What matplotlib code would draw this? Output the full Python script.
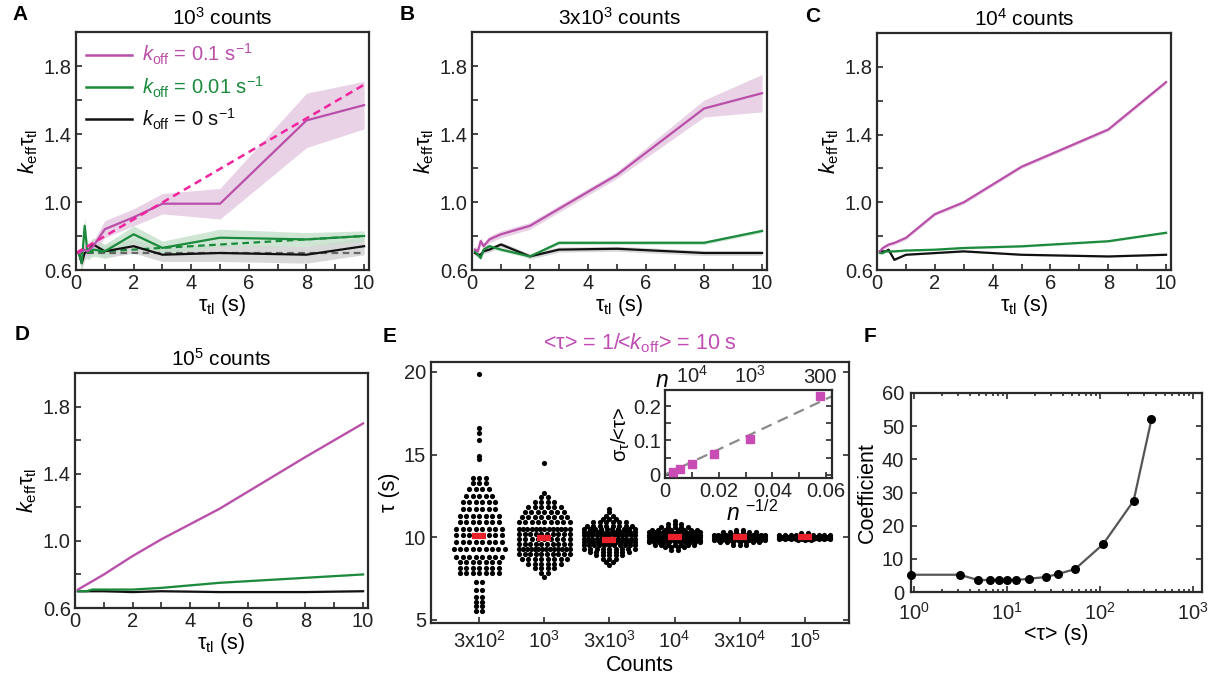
import numpy as np
import matplotlib
matplotlib.use('Agg')
import matplotlib.pyplot as plt
from matplotlib.ticker import MultipleLocator, FixedLocator, NullFormatter, LogLocator
from matplotlib.lines import Line2D

plt.rcParams['font.family'] = ['Liberation Sans', 'DejaVu Sans']
plt.rcParams['mathtext.fontset'] = 'custom'
plt.rcParams['mathtext.rm'] = 'Liberation Sans'
plt.rcParams['mathtext.it'] = 'Liberation Sans:italic'
plt.rcParams['mathtext.bf'] = 'Liberation Sans:bold'
plt.rcParams['mathtext.sf'] = 'Liberation Sans'

# ---------------- data: panels A-D ----------------
tl = [0.1, 0.2, 0.3, 0.4, 0.6, 1, 2, 3, 5, 8, 10]

A_pink = [0.70, 0.71, 0.72, 0.71, 0.74, 0.84, 0.91, 0.99, 0.99, 1.48, 1.57]
A_pink_err = [0.02, 0.02, 0.03, 0.03, 0.03, 0.05, 0.05, 0.06, 0.09, 0.16, 0.14]
A_green = [0.70, 0.64, 0.86, 0.70, 0.72, 0.71, 0.81, 0.73, 0.79, 0.78, 0.80]
A_green_err = [0.03, 0.05, 0.05, 0.04, 0.04, 0.04, 0.05, 0.04, 0.05, 0.04, 0.03]
A_black = [0.70, 0.64, 0.70, 0.71, 0.75, 0.71, 0.74, 0.69, 0.70, 0.69, 0.74]
A_black_err = [0.03, 0.04, 0.04, 0.04, 0.04, 0.04, 0.04, 0.04, 0.05, 0.05, 0.05]
A_theory_x = [0, 10]
A_theory_pink = [0.70, 1.69]
A_theory_green = [0.70, 0.80]
A_theory_black = [0.70, 0.70]

B_pink = [0.72, 0.71, 0.77, 0.74, 0.78, 0.81, 0.86, 0.96, 1.16, 1.55, 1.64]
B_pink_err = [0.02, 0.02, 0.02, 0.02, 0.02, 0.02, 0.02, 0.02, 0.02, 0.05, 0.11]
B_green = [0.71, 0.69, 0.67, 0.72, 0.74, 0.72, 0.68, 0.76, 0.76, 0.76, 0.83]
B_green_err = [0.01] * 11
B_black = [0.70, 0.69, 0.69, 0.71, 0.72, 0.75, 0.68, 0.72, 0.725, 0.70, 0.70]
B_black_err = [0.015] * 11

C_pink = [0.71, 0.73, 0.74, 0.75, 0.76, 0.79, 0.93, 1.00, 1.21, 1.43, 1.71]
C_pink_err = [0.01] * 11
C_green = [0.70, 0.70, 0.71, 0.71, 0.71, 0.715, 0.72, 0.73, 0.74, 0.77, 0.82]
C_green_err = [0.006] * 11
C_black = [0.71, 0.71, 0.71, 0.72, 0.66, 0.69, 0.70, 0.71, 0.69, 0.68, 0.69]
C_black_err = [0.004] * 11

D_pink = [0.71, 0.72, 0.73, 0.74, 0.76, 0.80, 0.91, 1.01, 1.19, 1.50, 1.70]
D_pink_err = [0.006] * 11
D_green = [0.70, 0.70, 0.70, 0.70, 0.71, 0.71, 0.71, 0.72, 0.75, 0.78, 0.80]
D_green_err = [0.004] * 11
D_black = [0.70, 0.70, 0.70, 0.70, 0.70, 0.70, 0.695, 0.70, 0.695, 0.695, 0.70]
D_black_err = [0.005] * 11

# ---------------- data: panel E ----------------
E_categories = ['3x10$^\\mathregular{2}$', '10$^\\mathregular{3}$', '3x10$^\\mathregular{3}$',
                '10$^\\mathregular{4}$', '3x10$^\\mathregular{4}$', '10$^\\mathregular{5}$']
E_g1_levels = [19.9, 16.6, 16.3, 15.9, 14.9, 14.7, 13.6, 13.3, 12.9, 12.5, 12.1, 11.7, 11.3, 10.9,
               10.5, 10.1, 9.7, 9.25, 8.8, 8.5, 8.1, 7.8, 7.3, 6.8, 6.4, 6.1, 5.8, 5.5]
E_g1_counts = [1, 1, 1, 1, 1, 1, 3, 3, 4, 5, 6, 6, 7, 7, 8, 8, 8, 9, 8, 7, 7, 7, 2, 2, 2, 2, 2, 2]
E_g2_levels = [14.5, 12.7, 12.4, 12.1, 11.8, 11.5, 11.2, 10.9, 10.5, 10.2, 9.9, 9.6, 9.3, 9.0,
               8.7, 8.4, 8.1, 7.8, 7.6]
E_g2_counts = [1, 1, 2, 4, 6, 7, 8, 9, 13, 10, 9, 10, 14, 10, 8, 6, 4, 2, 1]
E_g3_levels = [11.7, 11.5, 11.3, 11.1, 10.9, 10.7, 10.5, 10.3, 10.1, 9.9, 9.7, 9.5, 9.3, 9.1,
               8.9, 8.7, 8.5, 8.3]
E_g3_counts = [1, 1, 2, 3, 6, 8, 10, 12, 13, 13, 12, 11, 9, 7, 5, 3, 2, 1]
E_g4_levels = [11.0, 10.8, 10.6, 10.45, 10.3, 10.15, 10.0, 9.85, 9.7, 9.55, 9.4, 9.2]
E_g4_counts = [1, 3, 5, 8, 12, 14, 16, 14, 11, 7, 4, 2]
E_g5_levels = [10.45, 10.3, 10.15, 10.05, 9.95, 9.85, 9.7, 9.55]
E_g5_counts = [2, 6, 14, 20, 20, 14, 7, 3]
E_g6_levels = [10.25, 10.12, 10.03, 9.97, 9.88, 9.8]
E_g6_counts = [2, 10, 25, 25, 10, 3]
E_means = [10.05, 9.92, 9.85, 10.0, 10.0, 10.0]

# inset
inset_x = [0.00316, 0.00577, 0.0100, 0.01826, 0.0316, 0.0577]
inset_y = [0.008, 0.017, 0.032, 0.061, 0.103, 0.229]
inset_fit_x = [0.0, 0.062]
inset_fit_y = [0.0, 0.229]
inset_top_ticks = [0.0100, 0.0316, 0.0577]
inset_top_labels = ['10$^\\mathregular{4}$', '10$^\\mathregular{3}$', '300']

# ---------------- data: panel F ----------------
F_tau = [0.93, 3.1, 4.9, 6.6, 8.3, 10, 12.6, 17.3, 26, 35, 54, 108, 230, 358]
F_coef = [5.2, 5.2, 3.6, 3.6, 3.7, 3.7, 3.6, 4.0, 4.5, 5.4, 6.9, 14.4, 27.5, 52.1]

# ---------------- style ----------------
PINK = '#b94fa9'
PINK_DASH = '#f0249c'
GREEN = '#1c8a3c'
BLACK = '#111111'
PINK_BAND = '#e4c6e0'
GREEN_BAND = '#c3e0ca'
GRAY_BAND = '#cfcfcf'
SPINE = '#2a2a2a'
FS = 14.5     # tick labels
FL = 15.5     # axis labels
FT = 15       # titles

W, H = 1215, 682
fig = plt.figure(figsize=(W / 100, H / 100), dpi=100)


def add_ax(l, t, r, b):
    return fig.add_axes([l / W, 1 - b / H, (r - l) / W, (b - t) / H])


def style_ax(ax, top=False, right=False):
    for s in ax.spines.values():
        s.set_color(SPINE)
        s.set_linewidth(1.6)
    ax.tick_params(which='both', direction='in', length=4, width=1.2, colors=SPINE,
                   labelsize=FS, top=top, right=right, labelcolor='#222222')


def lbl(x, y, s):
    fig.text(x / W, 1 - y / H, s, fontsize=15, fontweight='bold', ha='center', va='center')


ylab = '$k_\\mathregular{eff}$τ$_\\mathregular{tl}$'
xlab = 'τ$_\\mathregular{tl}$ (s)'

panels = [
    ('A', '10$^\\mathregular{3}$ counts', (76, 32, 369, 270), (20, 15),
     (A_pink, A_pink_err), (A_green, A_green_err), (A_black, A_black_err)),
    ('B', '3x10$^\\mathregular{3}$ counts', (472, 32, 767, 270), (407, 15),
     (B_pink, B_pink_err), (B_green, B_green_err), (B_black, B_black_err)),
    ('C', '10$^\\mathregular{4}$ counts', (877, 33, 1171, 270), (813, 17),
     (C_pink, C_pink_err), (C_green, C_green_err), (C_black, C_black_err)),
    ('D', '10$^\\mathregular{5}$ counts', (75, 373, 368, 608), (22, 335),
     (D_pink, D_pink_err), (D_green, D_green_err), (D_black, D_black_err)),
]

axA = None
for letter, title, box, lpos, pk, gr, bk in panels:
    ax = add_ax(*box)
    style_ax(ax)
    x = np.array(tl)
    for (m, e), bc in [(bk, GRAY_BAND), (gr, GREEN_BAND), (pk, PINK_BAND)]:
        m = np.array(m); e = np.array(e)
        ax.fill_between(x, m - e, m + e, color=bc, alpha=0.8, lw=0)
    if letter == 'A':
        ax.plot(A_theory_x, A_theory_black, ls=(0, (3, 2)), color='#666666', lw=1.6)
        ax.plot(A_theory_x, A_theory_green, ls=(0, (3, 2)), color=GREEN, lw=1.6)
    for (m, e), lc in [(bk, BLACK), (gr, GREEN), (pk, PINK)]:
        ax.plot(x, m, color=lc, lw=1.6)
    if letter == 'A':
        ax.plot(A_theory_x, A_theory_pink, ls=(0, (3, 2)), color=PINK_DASH, lw=1.8)
        axA = ax
    ax.set_xlim(0, 10.17)
    ax.set_ylim(0.6, 2.0)
    ax.set_yticks([0.6, 1.0, 1.4, 1.8])
    ax.yaxis.set_minor_locator(FixedLocator([0.8, 1.2, 1.6]))
    ax.set_xticks([0, 2, 4, 6, 8, 10])
    ax.xaxis.set_minor_locator(MultipleLocator(1))
    ax.tick_params(axis='x', pad=3)
    ax.tick_params(axis='y', pad=3)
    ax.set_ylabel(ylab, fontsize=FL, labelpad=3)
    ax.set_xlabel(xlab, fontsize=FL, labelpad=0)
    ax.set_title(title, fontsize=FT, pad=5)
    lbl(lpos[0], lpos[1], letter)

handles = [Line2D([], [], color=PINK, lw=1.8), Line2D([], [], color=GREEN, lw=1.8),
           Line2D([], [], color=BLACK, lw=1.8)]
labels = ['$k_\\mathregular{off}$ = 0.1 s$^\\mathregular{-1}$',
          '$k_\\mathregular{off}$ = 0.01 s$^\\mathregular{-1}$',
          '$k_\\mathregular{off}$ = 0 s$^\\mathregular{-1}$']
leg = axA.legend(handles, labels, loc='upper left', frameon=False, fontsize=14.5,
                 handlelength=2.3, borderaxespad=0.1, labelspacing=0.35, handletextpad=0.5)
for t, c in zip(leg.get_texts(), [PINK, GREEN, BLACK]):
    t.set_color(c)

# ---------------- panel E ----------------
axE = add_ax(431, 362, 849, 623)
style_ax(axE, right=True)
groups = [(E_g1_levels, E_g1_counts), (E_g2_levels, E_g2_counts), (E_g3_levels, E_g3_counts),
          (E_g4_levels, E_g4_counts), (E_g5_levels, E_g5_counts), (E_g6_levels, E_g6_counts)]
for i, (lev, cnt) in enumerate(groups):
    xs, ys = [], []
    for v, n in zip(lev, cnt):
        step = 0.1 if n <= 1 else min(0.1, 0.78 / (n - 1))
        off = (np.arange(n) - (n - 1) / 2) * step
        xs.extend(i + off)
        ys.extend([v] * n)
    axE.scatter(xs, ys, s=14, color='black', lw=0, zorder=2)
axE.plot(range(6), E_means, ls='none', marker='_', ms=9.5, mew=4.5, color='#e8212b', zorder=3)
axE.set_xlim(-0.74, 5.68)
axE.set_ylim(4.8, 20.6)
axE.set_yticks([5, 10, 15, 20])
axE.set_xticks(range(6))
axE.set_xticklabels(E_categories)
axE.tick_params(axis='x', pad=5)
axE.set_xlabel('Counts', fontsize=FL, labelpad=2)
axE.set_ylabel('τ (s)', fontsize=FL, labelpad=3)
axE.set_title('<τ> = 1/<$k_\\mathregular{off}$> = 10 s', fontsize=FL, color='#c04db4', pad=9)
lbl(390, 337, 'E')

# inset
axI = add_ax(665, 390, 832, 478)
style_ax(axI, top=True, right=True)
axI.plot(inset_fit_x, inset_fit_y, ls=(0, (5, 3)), color='#8a8a8a', lw=1.6, zorder=2)
axI.plot(inset_x, inset_y, ls='none', marker='s', ms=5.5, color='#c84cb4', zorder=3)
axI.set_xlim(0, 0.0622)
axI.set_ylim(-0.01, 0.248)
axI.set_xticks([0, 0.02, 0.04, 0.06])
axI.set_xticklabels(['0', '0.02', '0.04', '0.06'])
axI.xaxis.set_minor_locator(MultipleLocator(0.01))
axI.set_yticks([0, 0.1, 0.2])
axI.set_yticklabels(['0', '0.1', '0.2'])
axI.yaxis.set_minor_locator(MultipleLocator(0.05))
axI.tick_params(axis='x', labeltop=False, pad=3)
axI.tick_params(axis='y', pad=3)
axT = axI.twiny()
axT.set_xlim(axI.get_xlim())
axT.set_xticks(inset_top_ticks)
axT.set_xticklabels(inset_top_labels)
axT.tick_params(direction='in', length=0, labelsize=FS, pad=2, labelcolor='#222222')
for s in axT.spines.values():
    s.set_visible(False)
axI.set_ylabel('σ$_\\mathregular{τ}$/<τ>', fontsize=FS, labelpad=1)
fig.text(662 / W, 1 - 381 / H, '$n$', fontsize=FL + 1, ha='center', va='center')
fig.text(752 / W, 1 - 513 / H, '$n$ $^\\mathregular{-1/2}$', fontsize=FL + 1, ha='center', va='center')

# ---------------- panel F ----------------
axF = add_ax(911, 393, 1202, 592)
style_ax(axF, top=True, right=True)
axF.plot(F_tau, F_coef, color='#555555', lw=1.6, marker='o', ms=5.5, mfc='black', mec='black',
         clip_on=False, zorder=3)
axF.set_xscale('log')
axF.set_xlim(0.93, 1250)
axF.set_ylim(0, 60)
axF.set_yticks([0, 10, 20, 30, 40, 50, 60])
axF.xaxis.set_major_locator(LogLocator(base=10, numticks=10))
axF.xaxis.set_minor_locator(LogLocator(base=10, subs=np.arange(2, 10), numticks=20))
axF.xaxis.set_minor_formatter(NullFormatter())
axF.tick_params(which='minor', length=2.5)
axF.tick_params(axis='x', which='major', pad=7)
axF.tick_params(axis='y', pad=5)
axF.set_xlabel('<τ> (s)', fontsize=FL, labelpad=0)
axF.set_ylabel('Coefficient', fontsize=FL, labelpad=3)
lbl(870, 337, 'F')

fig.savefig('out.png', dpi=100)
